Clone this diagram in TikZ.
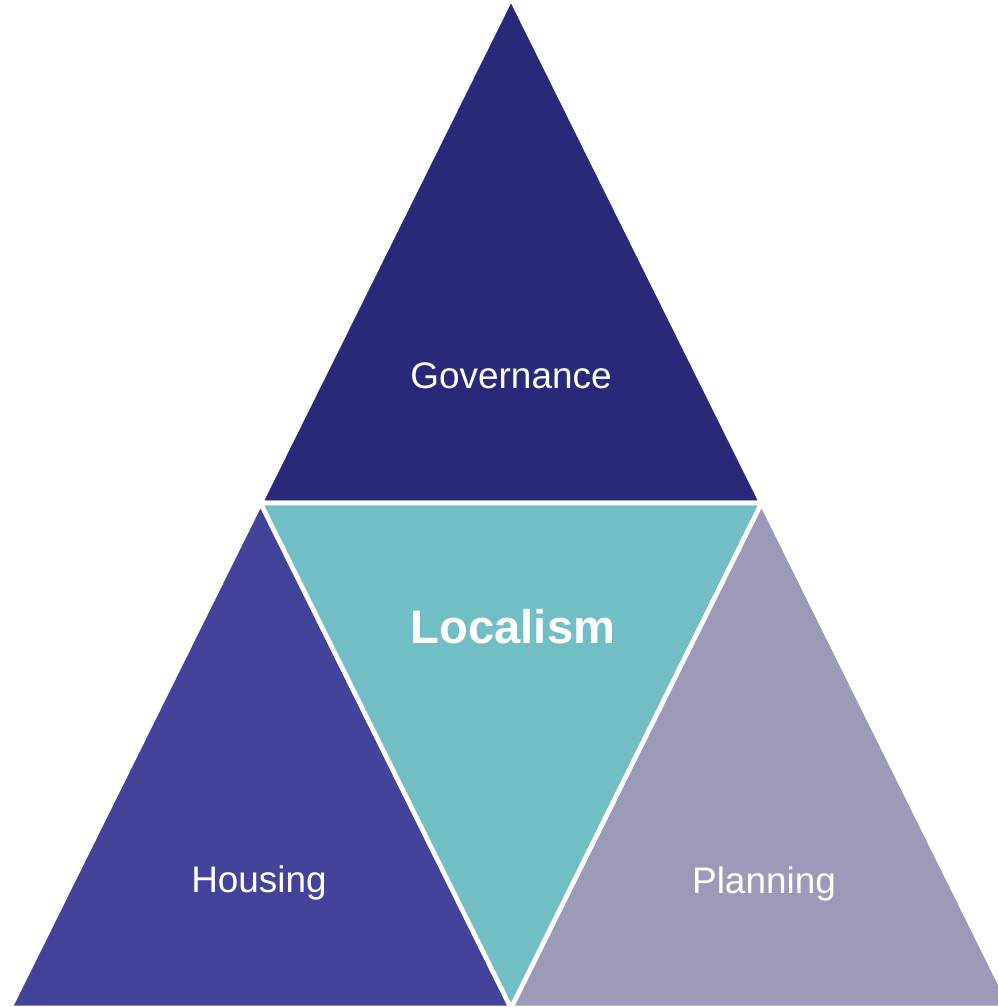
\documentclass[tikz,border=0pt]{standalone}
\usepackage{fontspec}
\setmainfont{Liberation Sans}
\usetikzlibrary{positioning, calc}

\definecolor{govblue}{HTML}{29297A}
\definecolor{houseblue}{HTML}{434399}
\definecolor{localteal}{HTML}{72BEC5}
\definecolor{planlilac}{HTML}{9B9BB9}

\begin{document}
\begin{tikzpicture}[x=0.01cm, y=-0.01cm,
    part/.style={draw=white, line width=1.3pt, line join=miter},
    label/.style={text=white, inner sep=0pt, anchor=base, font=\fontsize{10.5}{12}\selectfont},
    biglabel/.style={label, font=\fontsize{13.4}{15}\selectfont\bfseries}]
    \useasboundingbox (0,0) rectangle (998,1007);
    \clip (0,0) rectangle (998,1007);
    % corners of the big triangle and the midpoints
    \coordinate (top) at (511,-2);
    \coordinate (bl) at (10,1008);
    \coordinate (br) at (1012,1008);
    \coordinate (ml) at ($(top)!0.5!(bl)$);
    \coordinate (mr) at ($(top)!0.5!(br)$);
    \coordinate (mb) at ($(bl)!0.5!(br)$);

    \filldraw[part, fill=govblue] (top) -- (ml) -- (mr) -- cycle;
    \filldraw[part, fill=houseblue] (ml) -- (bl) -- (mb) -- cycle;
    \filldraw[part, fill=planlilac] (mr) -- (mb) -- (br) -- cycle;
    \filldraw[part, fill=localteal] (ml) -- (mr) -- (mb) -- cycle;

    \node[label] (gov) at (511,389) {Governance};
    \node[biglabel] (loc) at (513,643) {Localism};
    \node[label] (hou) at (259,892) {Housing};
    \node[label] (pla) at (764,893) {Planning};
\end{tikzpicture}
\end{document}
